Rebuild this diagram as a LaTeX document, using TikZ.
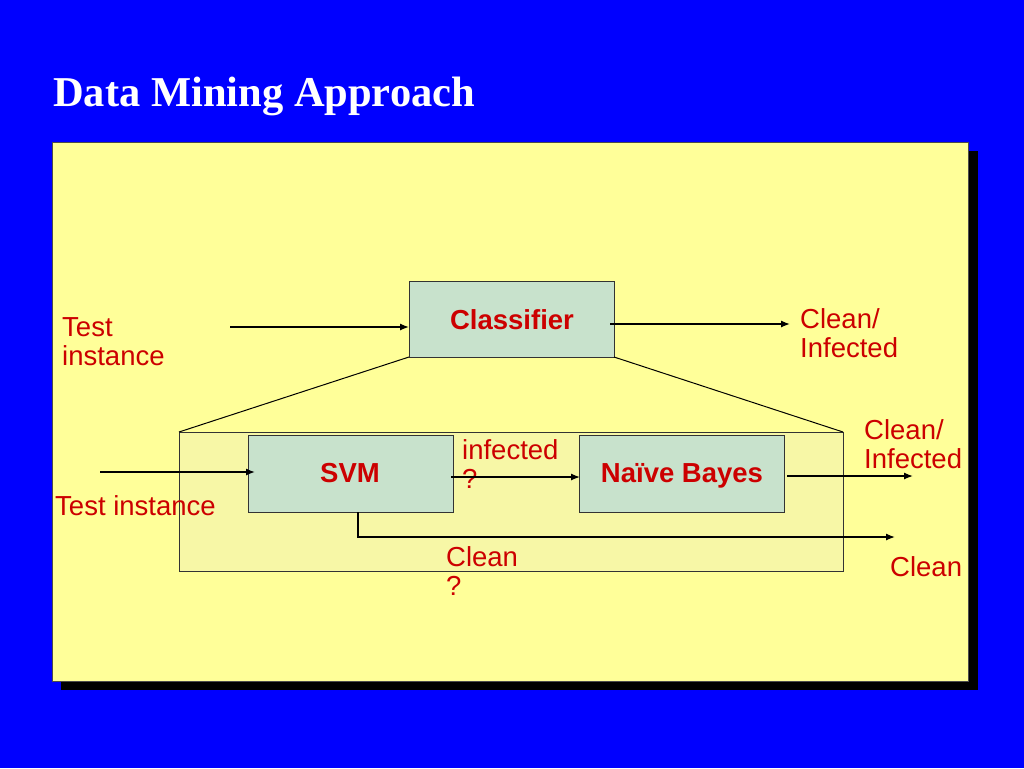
\documentclass[tikz,border=0pt]{standalone}
\usepackage{fontspec}
\setmainfont{Liberation Sans}
\newfontfamily\titlefont{Liberation Serif}
\usetikzlibrary{arrows.meta}
\definecolor{bgblue}{HTML}{0000FF}
\definecolor{panel}{HTML}{FFFF99}
\definecolor{inner}{HTML}{F7F7A6}
\definecolor{boxfill}{HTML}{C8E2CC}
\definecolor{txtred}{HTML}{CC0000}
\begin{document}
\begin{tikzpicture}[x=1pt,y=-1pt,
  lbl/.style={text=txtred,font=\fontsize{27.5}{29}\selectfont,align=left,inner sep=0pt,anchor=base west},
  boxlbl/.style={text=txtred,font=\fontsize{27.5}{29}\selectfont\bfseries,inner sep=0pt},
  procbox/.style={draw=black!80,fill=boxfill,line width=1pt},
  arr/.style={-{Latex[length=9pt,width=7pt]},line width=1.3pt},
  thin/.style={line width=1pt}]
\useasboundingbox (0,0) rectangle (1024,768);
\fill[bgblue] (0,0) rectangle (1024,768);
\node[anchor=base west,inner sep=0pt,text=white,font=\fontsize{42.5}{44}\selectfont\titlefont\bfseries] (title) at (53,106) {Data Mining Approach};
% panel with shadow
\fill[black] (61,151) rectangle (978,690);
\draw[fill=panel,draw=black!70,line width=0.6pt] (52,142) rectangle (968,681);
% inner box
\draw[fill=inner,draw=black!80,thin] (179,432) rectangle (843,571);
\coordinate (innerTL) at (179,432);
\coordinate (innerTR) at (843,432);
% boxes
\draw[procbox] (409,281) rectangle (614,357);
\node[boxlbl] (classifier) at (512,320) {Classifier};
\coordinate (clBL) at (409,357);
\coordinate (clBR) at (614,357);
\coordinate (clL) at (409,327);
\coordinate (clR) at (610,324);
\draw[procbox] (248,435) rectangle (453,512);
\node[boxlbl] (svm) at (350,473) {SVM};
\draw[procbox] (579,435) rectangle (784,512);
\node[boxlbl] (nb) at (682,476) {Naïve Bayes};
\coordinate (svmL) at (255,472);
\coordinate (svmR) at (451,477);
\coordinate (nbL) at (580,477);
\coordinate (nbR) at (787,476);
\coordinate (svmB) at (358,512);
% labels (base = last line)
\node[lbl] (ti1) at (62,365) {Test\\instance};
\node[lbl] (ci1) at (800,357) {Clean/\\Infected};
\node[lbl] (ti2) at (55,515) {Test instance};
\node[lbl] (inf) at (462,488) {infected\\?};
\node[lbl] (ci2) at (864,468) {Clean/\\Infected};
\node[lbl] (clq) at (446,595) {Clean\\?};
\node[lbl] (cl) at (890,576) {Clean};
% free ends
\coordinate (a1s) at (230,327);
\coordinate (a2e) at (790,324);
\coordinate (a3s) at (100,472);
\coordinate (a5e) at (913,476);
\coordinate (a6e) at (895,537);
% connectors
\draw[arr] (a1s) -- (clL);
\draw[arr] (clR) -- (a2e);
\draw[thin] (clBL) -- (innerTL);
\draw[thin] (clBR) -- (innerTR);
\draw[arr] (a3s) -- (svmL);
\draw[arr] (svmR) -- (nbL);
\draw[arr] (nbR) -- (a5e);
\draw[arr] (svmB) |- (a6e);
\end{tikzpicture}
\end{document}
